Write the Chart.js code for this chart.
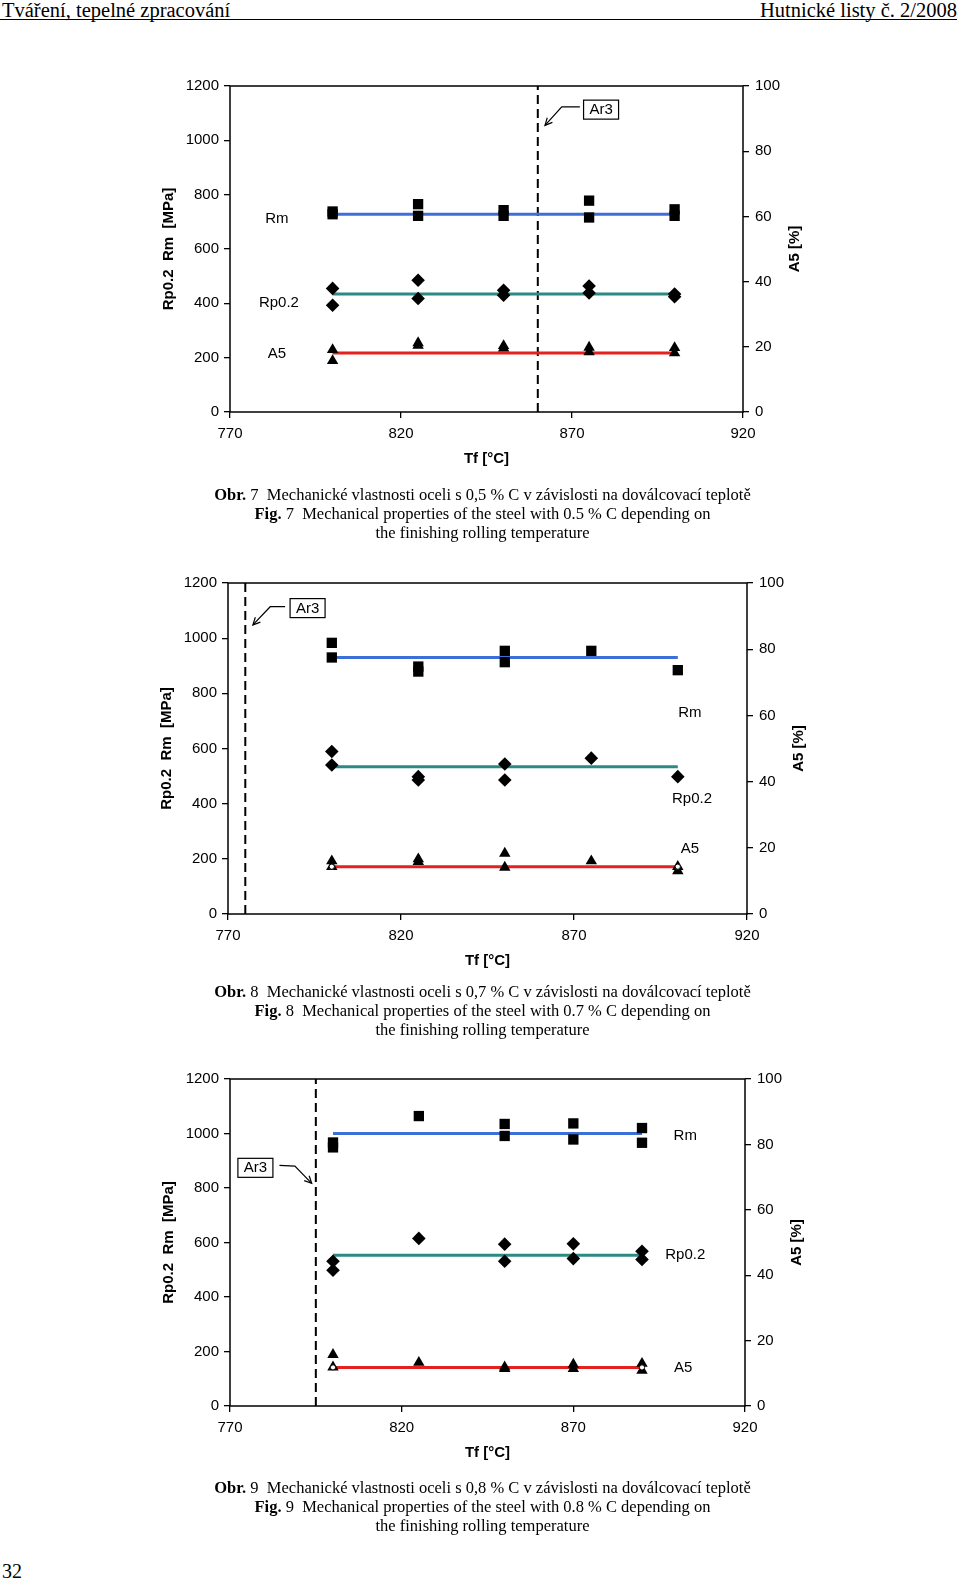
<!DOCTYPE html>
<html lang="cs">
<head>
<meta charset="utf-8">
<title>Hutnické listy č. 2/2008</title>
<script src="https://cdn.jsdelivr.net/npm/chart.js@4.4.1/dist/chart.umd.min.js"></script>
<style>
  html, body { margin: 0; padding: 0; background: #fff; }
  body {
    position: relative; width: 960px; height: 1580px; overflow: hidden;
    font-family: "Liberation Serif", "Times New Roman", serif; color: #000;
  }
  .head { position: absolute; top: 0; font-size: 20.5px; line-height: 20px; white-space: nowrap; }
  .rule { position: absolute; left: 0; top: 18.5px; width: 957px; height: 1.5px; background: #000; }
  .fig { position: absolute; left: 150px; width: 660px; height: 420px; }
  .cap {
    position: absolute; left: 0; width: 965px; text-align: center;
    font-size: 16.5px; line-height: 19.1px; white-space: nowrap;
  }
  .page { position: absolute; left: 2px; top: 1560px; font-size: 20px; line-height: 22px; }
</style>
</head>
<body>

<div class="head" style="left:2px">Tváření, tepelné zpracování</div>
<div class="head" style="right:3px">Hutnické listy č. 2/2008</div>
<div class="rule"></div>

<canvas id="fig7" class="fig" width="660" height="420" style="top:70px"></canvas>
<div class="cap" style="top:485px">
  <b>Obr.</b> 7&nbsp; Mechanické vlastnosti oceli s 0,5 % C v závislosti na doválcovací teplotě<br>
  <b>Fig.</b> 7&nbsp; Mechanical properties of the steel with 0.5 % C depending on<br>
  the finishing rolling temperature
</div>

<canvas id="fig8" class="fig" width="660" height="420" style="top:565px"></canvas>
<div class="cap" style="top:982px">
  <b>Obr.</b> 8&nbsp; Mechanické vlastnosti oceli s 0,7 % C v závislosti na doválcovací teplotě<br>
  <b>Fig.</b> 8&nbsp; Mechanical properties of the steel with 0.7 % C depending on<br>
  the finishing rolling temperature
</div>

<canvas id="fig9" class="fig" width="660" height="420" style="top:1060px"></canvas>
<div class="cap" style="top:1478px">
  <b>Obr.</b> 9&nbsp; Mechanické vlastnosti oceli s 0,8 % C v závislosti na doválcovací teplotě<br>
  <b>Fig.</b> 9&nbsp; Mechanical properties of the steel with 0.8 % C depending on<br>
  the finishing rolling temperature
</div>

<div class="page">32</div>

<script>
// axis ticks
const tempTicks = [770, 820, 870, 920];
const strengthTicks = [0, 200, 400, 600, 800, 1000, 1200];
const elongTicks = [0, 20, 40, 60, 80, 100];

// Obr. 7 - 0,5 % C  (values per temperature, several specimens each)
const fig7Temps = [800, 825, 850, 875, 900];
const fig7Rm = [[738, 728], [765, 722], [743, 722], [778, 716], [746, 722]];
const fig7Rp = [[455, 393], [485, 418], [448, 430], [464, 438], [434, 424]];
const fig7A5 = [[19.1, 15.7], [21.2, 20.4], [20.3, 19.6], [19.8, 18.4], [19.7, 18.1]];
const fig7Fit = [728, 434, 18.1];          // Rm, Rp0.2, A5 trend levels
const fig7FitRange = [800, 900];
const fig7Ar3 = 860;

// Obr. 8 - 0,7 % C
const fig8Temps = [800, 825, 850, 875, 900];
const fig8Rm = [[983, 930], [897, 879], [954, 913], [954], [884]];
const fig8Rp = [[589, 540], [498, 486], [544, 486], [565], [498]];
const fig8A5 = [[16.0, 14.3], [16.6, 15.8], [18.3, 14.1], [16.0], [13.0, 14.3]];
const fig8Fit = [930, 534, 14.3];
const fig8FitRange = [800, 900];
const fig8Ar3 = 775;

// Obr. 9 - 0,8 % C
const fig9Temps = [800, 825, 850, 870, 890];
const fig9Rm = [[967, 949], [1064], [1035, 991], [1037, 978], [1020, 966]];
const fig9Rp = [[531, 498], [615], [594, 531], [595, 541], [568, 538]];
const fig9A5 = [[15.7, 11.9], [13.3], [11.4, 11.9], [12.7, 11.4], [13.0, 10.9]];
const fig9Fit = [1000, 553, 11.8];
const fig9FitRange = [800, 890];
const fig9Ar3 = 795;

const BLUE = '#3d6fd9', TEAL = '#2b8a84', RED = '#e3211f';
const SANS = '"Liberation Sans", Arial, sans-serif';

Chart.defaults.font.family = SANS;
Chart.defaults.font.size = 15;
Chart.defaults.color = '#000';

function toPoints(temps, values) {
  const pts = [];
  temps.forEach((t, i) => values[i].forEach(v => pts.push({ x: t, y: v })));
  return pts;
}

function level(range, v) {
  return [{ x: range[0], y: v }, { x: range[1], y: v }];
}

// frame, axis titles, curve labels and the Ar3 callout
const decor = {
  id: 'decor',
  afterDraw(chart, args, o) {
    const { ctx, chartArea: a } = chart;
    const sx = chart.scales.x, sy = chart.scales.y;
    const px = p => [sx.getPixelForValue(p[0]), sy.getPixelForValue(p[1])];
    ctx.save();
    ctx.strokeStyle = '#000';
    ctx.lineWidth = 1.5;
    ctx.strokeRect(a.left, a.top, a.right - a.left, a.bottom - a.top);

    ctx.fillStyle = '#000';
    ctx.textAlign = 'center';
    ctx.textBaseline = 'middle';
    ctx.font = 'bold 15px ' + SANS;
    const midY = (a.top + a.bottom) / 2;
    ctx.fillText('Tf [°C]', (a.left + a.right) / 2, a.bottom + 47);
    ctx.save();
    ctx.translate(a.left - 61, midY);
    ctx.rotate(-Math.PI / 2);
    ctx.fillText('Rp0.2  Rm  [MPa]', 0, 0);
    ctx.restore();
    ctx.save();
    ctx.translate(a.right + 52, midY);
    ctx.rotate(-Math.PI / 2);
    ctx.fillText('A5 [%]', 0, 0);
    ctx.restore();

    ctx.font = '15px ' + SANS;
    o.labels.forEach(l => {
      const p = px([l[1], l[2]]);
      ctx.fillText(l[0], p[0], p[1]);
    });

    // Ar3 box
    const b = px(o.ar3Box);
    ctx.lineWidth = 1.2;
    ctx.fillStyle = '#fff';
    ctx.fillRect(b[0] - 17.5, b[1] - 9.5, 35, 19);
    ctx.strokeRect(b[0] - 17.5, b[1] - 9.5, 35, 19);
    ctx.fillStyle = '#000';
    ctx.fillText('Ar3', b[0], b[1] + 0.5);

    // arrow
    const pts = o.arrow.map(px);
    ctx.beginPath();
    ctx.moveTo(pts[0][0], pts[0][1]);
    pts.slice(1).forEach(p => ctx.lineTo(p[0], p[1]));
    ctx.stroke();
    const e = pts[pts.length - 1], s = pts[pts.length - 2];
    const ang = Math.atan2(e[1] - s[1], e[0] - s[0]);
    ctx.beginPath();
    ctx.moveTo(e[0] - 8 * Math.cos(ang - 0.45), e[1] - 8 * Math.sin(ang - 0.45));
    ctx.lineTo(e[0], e[1]);
    ctx.lineTo(e[0] - 8 * Math.cos(ang + 0.45), e[1] - 8 * Math.sin(ang + 0.45));
    ctx.stroke();
    ctx.restore();
  }
};

function tickAxis(values, extra) {
  return Object.assign({
    type: 'linear',
    afterBuildTicks: s => { s.ticks = values.map(v => ({ value: v })); },
    grid: { drawOnChartArea: false, drawTicks: true, tickLength: 6, color: '#000', lineWidth: 1.3 },
    border: { display: false }
  }, extra);
}

function tickStyle(pad) {
  return { color: '#000', font: { size: 15 }, padding: pad, maxRotation: 0, callback: v => String(v) };
}

function makeChart(id, f) {
  const datasets = [
    { data: toPoints(f.temps, f.rm), pointStyle: 'rect', pointRadius: 7.3, backgroundColor: '#000', borderColor: '#000', borderWidth: 0, order: 1 },
    { data: toPoints(f.temps, f.rp), pointStyle: 'rectRot', pointRadius: 6.8, backgroundColor: '#000', borderColor: '#000', borderWidth: 0, order: 1 },
    { data: toPoints(f.temps, f.a5), yAxisID: 'y2', pointStyle: 'triangle', pointRadius: 6.6, backgroundColor: '#000', borderColor: '#000', borderWidth: 0, order: 1 },
    { data: level(f.range, f.fit[0]), showLine: true, borderColor: BLUE, borderWidth: 3, pointRadius: 0, order: 2 },
    { data: level(f.range, f.fit[1]), showLine: true, borderColor: TEAL, borderWidth: 3, pointRadius: 0, order: 2 },
    { data: level(f.range, f.fit[2]), yAxisID: 'y2', showLine: true, borderColor: RED, borderWidth: 3, pointRadius: 0, order: 2 },
    { data: [{ x: f.ar3, y: 0 }, { x: f.ar3, y: 1200 }], showLine: true, borderColor: '#000', borderWidth: 2, borderDash: [9, 5], pointRadius: 0, order: 3 }
  ];
  if (f.openEnds) {
    datasets.push({ data: level(f.range, f.fit[2]), yAxisID: 'y2', pointStyle: 'circle', pointRadius: 2.6,
      backgroundColor: '#fff', borderColor: '#000', borderWidth: 1, order: 0 });
  }
  return new Chart(document.getElementById(id), {
    type: 'scatter',
    data: { datasets },
    options: {
      responsive: false,
      animation: false,
      layout: { padding: { top: f.box.top, left: 0, right: 0, bottom: 0 } },
      plugins: { legend: { display: false }, tooltip: { enabled: false }, decor: f },
      scales: {
        x: tickAxis(tempTicks, { min: 770, max: 920, afterFit: s => { s.height = f.box.bottom; }, ticks: tickStyle(7) }),
        y: tickAxis(strengthTicks, { position: 'left', min: 0, max: 1200, afterFit: s => { s.width = f.box.left; }, ticks: tickStyle(5) }),
        y2: tickAxis(elongTicks, { position: 'right', min: 0, max: 100, afterFit: s => { s.width = f.box.right; }, ticks: tickStyle(6) })
      }
    },
    plugins: [decor]
  });
}

makeChart('fig7', {
  temps: fig7Temps, rm: fig7Rm, rp: fig7Rp, a5: fig7A5, fit: fig7Fit, range: fig7FitRange, ar3: fig7Ar3,
  openEnds: false,
  box: { left: 80, right: 67, top: 16, bottom: 78 },
  labels: [['Rm', 783.7, 712], ['Rp0.2', 784.3, 400], ['A5', 783.7, 215]],
  ar3Box: [878.5, 1113],
  arrow: [[872.3, 1123], [867, 1123], [862.1, 1055]]
});

makeChart('fig8', {
  temps: fig8Temps, rm: fig8Rm, rp: fig8Rp, a5: fig8A5, fit: fig8Fit, range: fig8FitRange, ar3: fig8Ar3,
  openEnds: true,
  box: { left: 78, right: 63, top: 18, bottom: 71 },
  labels: [['Rm', 903.5, 728], ['Rp0.2', 904.1, 417], ['A5', 903.5, 235]],
  ar3Box: [793, 1109],
  arrow: [[786.5, 1114], [782.2, 1114], [777.2, 1048]]
});

makeChart('fig9', {
  temps: fig9Temps, rm: fig9Rm, rp: fig9Rp, a5: fig9A5, fit: fig9Fit, range: fig9FitRange, ar3: fig9Ar3,
  openEnds: true,
  box: { left: 80, right: 65, top: 19, bottom: 74 },
  labels: [['Rm', 902.6, 992], ['Rp0.2', 902.6, 556], ['A5', 902, 141]],
  ar3Box: [777.4, 874],
  arrow: [[784.4, 883], [788.9, 880], [793.8, 817]]
});
</script>
</body>
</html>
